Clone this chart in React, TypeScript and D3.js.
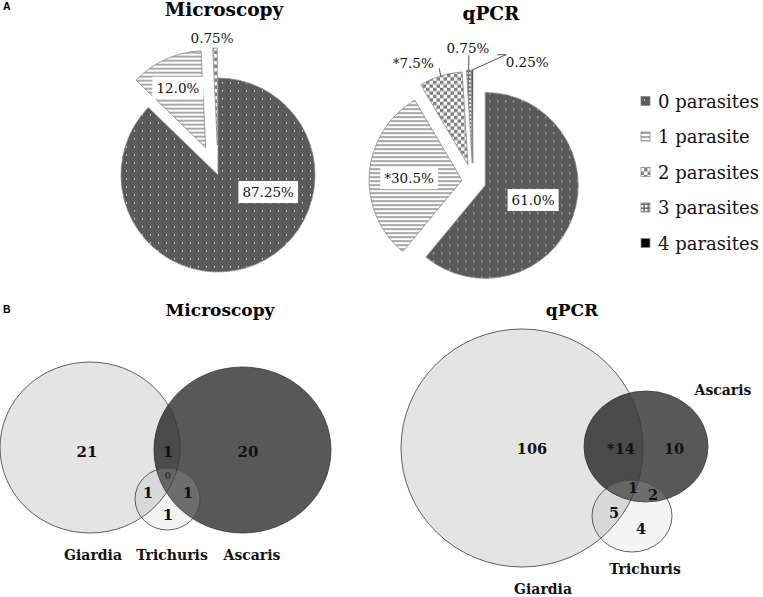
import React, { useEffect, useRef } from "react";
import * as d3 from "d3";

const W = 763;
const H = 597;

// ---------- data ----------
const categories = ["0 parasites", "1 parasite", "2 parasites", "3 parasites", "4 parasites"];
const microscopyValues = [87.25, 12.0, 0.75, 0, 0];
const qpcrValues = [61.0, 30.5, 7.5, 0.75, 0.25];
const microscopyLabels = ["87.25%", "12.0%", "0.75%", "", ""];
const qpcrLabels = ["61.0%", "*30.5%", "*7.5%", "0.75%", "0.25%"];

const vennSetNames = ["Giardia", "Trichuris", "Ascaris"];
const vennRegionKeys = ["G", "A", "T", "GA", "GT", "AT", "GAT"];
const microscopyVennCounts = ["21", "20", "1", "1", "1", "1", "0"];
const qpcrVennCounts = ["106", "10", "4", "*14", "5", "2", "1"];

// ---------- layout / style ----------
const FONT = "'DejaVu Serif', serif";

const pieLayouts = [
  {
    title: "Microscopy", tx: 224, ty: 16, tsize: 18.5,
    cx: 218, cy: 175, r: 97, explode: [0, 30, 30, 30, 30],
    values: microscopyValues, labels: microscopyLabels,
    place: [
      { a: 108.8, d: 53, box: true },
      { a: 335.3, d: 96, box: true },
      { a: 357.5, d: 137, box: false },
      null, null,
    ],
  },
  {
    title: "qPCR", tx: 491, ty: 20, tsize: 18.5,
    cx: 473, cy: 181, r: 93, explode: [13, 11, 17, 18, 18],
    values: qpcrValues, labels: qpcrLabels,
    place: [
      { a: 107.6, d: 63, box: true },
      { a: 272.7, d: 64, box: true },
      { a: 333.1, d: 132, box: false, leader: [[26, 5]] },
      { a: 357.8, d: 133, box: false, leader: [[1, 7]] },
      { a: 24.4, d: 131, box: false, leader: [[-21, -7], [-30, -7]] },
    ],
  },
];

const vennLayouts = [
  {
    title: "Microscopy", tx: 220, ty: 316,
    counts: microscopyVennCounts, numSize: 15,
    ell: {
      G: { cx: 90, cy: 447.5, rx: 90, ry: 85.5 },
      A: { cx: 242.5, cy: 450, rx: 88.5, ry: 83 },
      T: { cx: 167.5, cy: 499, rx: 32.5, ry: 31 },
    },
    numPos: { G: [87, 457], A: [248, 457], T: [168, 520], GA: [168, 457], GT: [148, 498], AT: [188, 498], GAT: [168, 479] },
    smallKeys: ["GAT"],
    setLabels: { Giardia: [93, 560], Trichuris: [172, 560], Ascaris: [252, 560] },
  },
  {
    title: "qPCR", tx: 572, ty: 316,
    counts: qpcrVennCounts, numSize: 14.5,
    ell: {
      G: { cx: 522, cy: 448, rx: 121, ry: 119 },
      A: { cx: 646, cy: 446.5, rx: 62, ry: 55.5 },
      T: { cx: 632, cy: 516, rx: 40, ry: 36 },
    },
    numPos: { G: [532, 454], A: [674, 454], T: [641, 534], GA: [621, 454], GT: [614, 518], AT: [653, 500], GAT: [633, 493] },
    smallKeys: [],
    setLabels: { Giardia: [543, 594], Trichuris: [645, 574], Ascaris: [723, 395] },
  },
];

const vennColors: Record<string, string> = {
  G: "#e4e4e4", A: "#585858", T: "#f4f4f4",
  GA: "#4b4b4b", GT: "#d8d8d8", AT: "#6d6d6d", GAT: "#656565",
};

export default function App() {
  const ref = useRef<SVGSVGElement>(null);

  useEffect(() => {
    const svg = d3.select(ref.current);
    svg.selectAll("*").remove();
    const defs = svg.append("defs");

    // patterns
    const p0 = defs.append("pattern").attr("id", "pat0").attr("patternUnits", "userSpaceOnUse").attr("width", 8).attr("height", 8);
    p0.append("rect").attr("width", 8).attr("height", 8).attr("fill", "#5a5a5a");
    p0.append("rect").attr("x", 4).attr("y", 3).attr("width", 1).attr("height", 1.6).attr("fill", "#d8d8d8");
    const p1 = defs.append("pattern").attr("id", "pat1").attr("patternUnits", "userSpaceOnUse").attr("width", 8).attr("height", 4);
    p1.append("rect").attr("width", 8).attr("height", 4).attr("fill", "#ffffff");
    p1.append("rect").attr("y", 0).attr("width", 8).attr("height", 2).attr("fill", "#a8a8a8");
    const p2 = defs.append("pattern").attr("id", "pat2").attr("patternUnits", "userSpaceOnUse").attr("width", 7).attr("height", 7);
    p2.append("rect").attr("width", 7).attr("height", 7).attr("fill", "#ffffff");
    p2.append("rect").attr("width", 3.5).attr("height", 3.5).attr("fill", "#808080");
    p2.append("rect").attr("x", 3.5).attr("y", 3.5).attr("width", 3.5).attr("height", 3.5).attr("fill", "#808080");
    const p3 = defs.append("pattern").attr("id", "pat3").attr("patternUnits", "userSpaceOnUse").attr("width", 4).attr("height", 4);
    p3.append("rect").attr("width", 4).attr("height", 4).attr("fill", "#6e6e6e");
    p3.append("rect").attr("x", 1).attr("y", 1).attr("width", 2.4).attr("height", 2.4).attr("fill", "#ffffff");
    const p4 = defs.append("pattern").attr("id", "pat4").attr("patternUnits", "userSpaceOnUse").attr("width", 4).attr("height", 4);
    p4.append("rect").attr("width", 4).attr("height", 4).attr("fill", "#000000");

    // panel letters
    svg.append("text").attr("x", 3).attr("y", 10).text("A")
      .attr("font-family", "'Liberation Sans', Arial, sans-serif").attr("font-weight", "bold").attr("font-size", 10.5);
    svg.append("text").attr("x", 3).attr("y", 313).text("B")
      .attr("font-family", "'Liberation Sans', Arial, sans-serif").attr("font-weight", "bold").attr("font-size", 10.5);

    // pies
    const toRad = (deg: number) => (deg * Math.PI) / 180;
    pieLayouts.forEach((L) => {
      const g = svg.append("g");
      g.append("text").attr("x", L.tx).attr("y", L.ty).attr("text-anchor", "middle")
        .attr("font-family", FONT).attr("font-weight", "bold").attr("font-size", L.tsize).text(L.title);

      const arcs = d3.pie<number>().sort(null).value((d) => d)(L.values);
      const arcGen = d3.arc<d3.PieArcDatum<number>>().innerRadius(0).outerRadius(L.r);
      arcs.forEach((a, i) => {
        if (a.value <= 0) return;
        const mid = (a.startAngle + a.endAngle) / 2;
        const ox = L.explode[i] * Math.sin(mid);
        const oy = -L.explode[i] * Math.cos(mid);
        g.append("path").attr("d", arcGen(a) as string)
          .attr("transform", `translate(${L.cx + ox},${L.cy + oy})`)
          .attr("fill", `url(#pat${i})`).attr("stroke", "#8a8a8a").attr("stroke-width", 0.8);
      });

      arcs.forEach((a, i) => {
        const p = L.place[i];
        const txt = L.labels[i];
        if (!p || !txt) return;
        const lx = L.cx + p.d * Math.sin(toRad(p.a));
        const ly = L.cy - p.d * Math.cos(toRad(p.a));
        if (p.leader) {
          const mid = (a.startAngle + a.endAngle) / 2;
          const sx = L.cx + (L.explode[i] + L.r) * Math.sin(mid);
          const sy = L.cy - (L.explode[i] + L.r) * Math.cos(mid);
          const pts: [number, number][] = [[sx, sy], ...p.leader.map(([dx, dy]) => [lx + dx, ly + dy] as [number, number])];
          g.append("path").attr("d", d3.line()(pts) as string).attr("fill", "none")
            .attr("stroke", "#404040").attr("stroke-width", 0.9);
        }
        const t = g.append("text").attr("x", lx).attr("y", ly).attr("text-anchor", "middle")
          .attr("dominant-baseline", "central").attr("font-family", FONT).attr("font-size", 13.5)
          .attr("fill", "#111").text(txt);
        if (p.box) {
          const bb = (t.node() as SVGTextElement).getBBox();
          g.insert("rect", () => t.node() as any)
            .attr("x", bb.x - 4).attr("y", ly - 11).attr("width", bb.width + 8).attr("height", 22)
            .attr("fill", "#ffffff");
        }
      });
    });

    // legend
    const ly = d3.scalePoint<string>().domain(categories).range([101, 243]);
    const lg = svg.append("g");
    categories.forEach((c, i) => {
      const y = ly(c) as number;
      lg.append("rect").attr("x", 641).attr("y", y - 4.5).attr("width", 9).attr("height", 9)
        .attr("fill", `url(#pat${i})`).attr("stroke", "#8a8a8a").attr("stroke-width", 0.8);
      lg.append("text").attr("x", 658).attr("y", y).attr("dominant-baseline", "central")
        .attr("font-family", FONT).attr("font-size", 18).attr("fill", "#111").text(c);
    });

    // venns
    vennLayouts.forEach((V, vi) => {
      const g = svg.append("g");

      (["G", "A", "T"] as const).forEach((k) => {
        const e = V.ell[k];
        defs.append("clipPath").attr("id", `clip${vi}${k}`)
          .append("ellipse").attr("cx", e.cx).attr("cy", e.cy).attr("rx", e.rx).attr("ry", e.ry);
      });
      const ellipse = (parent: any, k: "G" | "A" | "T", fill: string) => {
        const e = V.ell[k];
        return parent.append("ellipse").attr("cx", e.cx).attr("cy", e.cy).attr("rx", e.rx).attr("ry", e.ry).attr("fill", fill);
      };
      ellipse(g, "G", vennColors.G);
      ellipse(g, "A", vennColors.A);
      ellipse(g.append("g").attr("clip-path", `url(#clip${vi}G)`), "A", vennColors.GA);
      ellipse(g, "T", vennColors.T);
      ellipse(g.append("g").attr("clip-path", `url(#clip${vi}G)`), "T", vennColors.GT);
      ellipse(g.append("g").attr("clip-path", `url(#clip${vi}A)`), "T", vennColors.AT);
      ellipse(g.append("g").attr("clip-path", `url(#clip${vi}G)`).append("g").attr("clip-path", `url(#clip${vi}A)`), "T", vennColors.GAT);
      (["G", "A", "T"] as const).forEach((k) => {
        ellipse(g, k, "none").attr("stroke", "#3a3a3a").attr("stroke-width", 0.8);
      });

      g.append("text").attr("x", V.tx).attr("y", V.ty).attr("text-anchor", "middle")
        .attr("font-family", FONT).attr("font-weight", "bold").attr("font-size", 17).text(V.title);

      vennRegionKeys.forEach((k, i) => {
        const [x, y] = (V.numPos as any)[k];
        const small = V.smallKeys.includes(k);
        g.append("text").attr("x", x).attr("y", y).attr("text-anchor", "middle")
          .attr("font-family", FONT).attr("font-weight", "bold")
          .attr("font-size", small ? 9 : V.numSize)
          .attr("fill", small ? "#333" : "#111").text(V.counts[i]);
      });
      vennSetNames.forEach((n) => {
        const [x, y] = (V.setLabels as any)[n];
        g.append("text").attr("x", x).attr("y", y).attr("text-anchor", "middle")
          .attr("font-family", FONT).attr("font-weight", "bold").attr("font-size", 14)
          .attr("fill", "#111").text(n);
      });
    });
  }, []);

  return (
    <svg ref={ref} width={W} height={H}
      style={{ position: "absolute", left: 0, top: 0, background: "#ffffff" }} />
  );
}
